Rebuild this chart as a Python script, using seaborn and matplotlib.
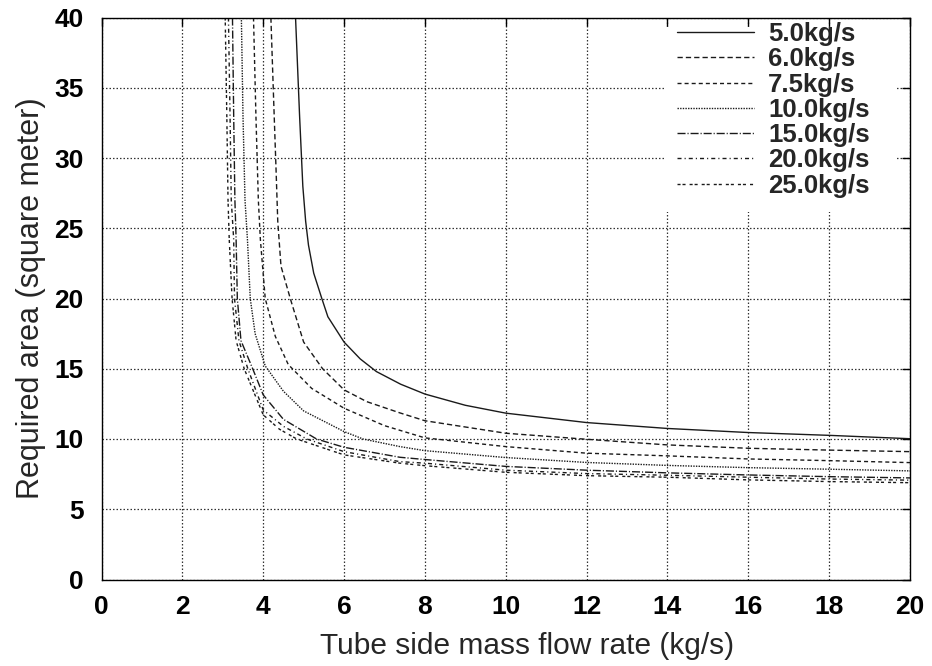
import numpy as np
import pandas as pd
import matplotlib
matplotlib.use("Agg")
import matplotlib.pyplot as plt
from matplotlib.patches import Rectangle
import seaborn as sns

# ---- data ----
labels = ["5.0kg/s", "6.0kg/s", "7.5kg/s", "10.0kg/s", "15.0kg/s", "20.0kg/s", "25.0kg/s"]

x_50 = [4.80, 4.90, 4.98, 5.05, 5.12, 5.25, 5.45, 5.60, 6.00, 6.40, 6.80, 7.40, 8.00, 9.00, 10, 12, 14, 16, 18, 20]
a_50 = [40, 33, 28, 25.5, 23.8, 21.8, 20, 18.7, 16.9, 15.7, 14.8, 13.9, 13.2, 12.4, 11.84, 11.17, 10.75, 10.46, 10.26, 10.02]

x_60 = [4.19, 4.26, 4.32, 4.36, 4.44, 4.68, 5.00, 5.47, 6.00, 6.56, 7.38, 8, 10, 12, 14, 16, 18, 20]
a_60 = [40, 34, 29, 25.5, 22.3, 19.9, 16.9, 15.0, 13.5, 12.66, 11.86, 11.3, 10.41, 9.98, 9.58, 9.34, 9.21, 9.1]

x_75 = [3.76, 3.82, 3.88, 3.93, 4.05, 4.30, 4.62, 5.20, 6.00, 7.00, 8, 10, 12, 14, 16, 18, 20]
a_75 = [40, 33, 27, 24.2, 20, 17.3, 15.3, 13.6, 12.19, 10.95, 10.08, 9.46, 8.99, 8.8, 8.58, 8.46, 8.32]

x_100 = [3.46, 3.50, 3.55, 3.61, 3.68, 3.80, 4.05, 4.50, 5.00, 6.00, 6.47, 7.38, 8, 10, 12, 14, 16, 18, 20]
a_100 = [40, 33, 27, 24.2, 20, 17.5, 15.2, 13.4, 12.0, 10.53, 10.0, 9.46, 9.17, 8.68, 8.33, 8.12, 7.96, 7.85, 7.73]

x_150 = [3.24, 3.27, 3.30, 3.33, 3.36, 3.45, 3.74, 4.00, 4.50, 5.32, 6.00, 7.38, 8, 10, 12, 14, 16, 18, 20]
a_150 = [40, 33, 27, 24.2, 20, 17, 15, 13.14, 11.4, 10.0, 9.41, 8.70, 8.54, 8.05, 7.78, 7.59, 7.44, 7.32, 7.23]

x_200 = [3.14, 3.18, 3.21, 3.27, 3.29, 3.40, 3.62, 4.00, 4.50, 5.08, 6.00, 7.38, 8, 10, 12, 14, 16, 18, 20]
a_200 = [40, 33, 27, 24.2, 20, 17, 15, 12.07, 10.9, 10.0, 9.1, 8.39, 8.28, 7.78, 7.54, 7.42, 7.28, 7.15, 7.07]

x_250 = [3.06, 3.10, 3.13, 3.16, 3.23, 3.33, 3.53, 4.00, 4.40, 4.83, 6.00, 7.38, 8, 10, 12, 14, 16, 18, 20]
a_250 = [40, 33, 27, 24.2, 20, 17, 15, 11.72, 10.7, 10.0, 8.87, 8.28, 8.1, 7.63, 7.39, 7.28, 7.09, 6.97, 6.89]

x_ticks = [0, 2, 4, 6, 8, 10, 12, 14, 16, 18, 20]
y_ticks = [0, 5, 10, 15, 20, 25, 30, 35, 40]

series_x = [x_50, x_60, x_75, x_100, x_150, x_200, x_250]
series_a = [a_50, a_60, a_75, a_100, a_150, a_200, a_250]

frames = []
for lab, xs, ys in zip(labels, series_x, series_a):
    frames.append(pd.DataFrame({"flow": xs, "area": ys, "shell": lab}))
df = pd.concat(frames, ignore_index=True)

dash_styles = {
    "5.0kg/s": "",
    "6.0kg/s": (3.8, 2.2),
    "7.5kg/s": (2.9, 2.2),
    "10.0kg/s": (1.0, 0.9),
    "15.0kg/s": (5.8, 1.4, 0.8, 1.4),
    "20.0kg/s": (2.9, 2.2, 0.8, 2.2),
    "25.0kg/s": (2.2, 1.4, 2.2, 2.9),
}
palette = {lab: "#1a1a1a" for lab in labels}

sns.set_style("white")
plt.rcParams["font.family"] = ["Liberation Sans", "DejaVu Sans"]

fig = plt.figure(figsize=(9.32, 6.66), dpi=100)
ax = fig.add_axes([101.5 / 932, (666 - 579.5) / 666, 808.5 / 932, 562 / 666])

sns.lineplot(data=df, x="flow", y="area", hue="shell", style="shell",
             hue_order=labels, style_order=labels, palette=palette,
             dashes=dash_styles, sort=False, estimator=None, units="shell",
             linewidth=1.0, ax=ax, legend=True)

ax.set_xlim(0, 20)
ax.set_ylim(0, 40)
ax.set_xticks(x_ticks)
ax.set_yticks(y_ticks)
ax.grid(True, color="#333333", linestyle=(0, (1.2, 1.6)), linewidth=0.9)
ax.set_axisbelow(True)
for s in ax.spines.values():
    s.set_color("black")
    s.set_linewidth(1.0)
ax.tick_params(direction="in", length=6, width=1, top=True, right=True,
               labelsize=19, colors="black")
ax.tick_params(axis="x", pad=11)
ax.tick_params(axis="y", pad=13)
for lbl in ax.get_xticklabels() + ax.get_yticklabels():
    lbl.set_fontweight("bold")

ax.set_xlabel("Tube side mass flow rate (kg/s)", fontsize=21.5, labelpad=8)
ax.set_ylabel("Required area (square meter)", fontsize=22, labelpad=6)
ax.xaxis.set_label_coords(0.526, -0.094)

# blank area behind the key (grid is interrupted there in the reference)
ax.add_patch(Rectangle((0.697, 0.654), 0.284, 0.329, transform=ax.transAxes,
                       facecolor="white", edgecolor="none", zorder=1))

handles, labs = ax.get_legend_handles_labels()
ax.legend(handles, labs, loc="upper left", bbox_to_anchor=(0.712, 0.992),
          frameon=False, prop={"weight": "bold", "size": 18.5},
          handlelength=3.0, handletextpad=0.55, labelspacing=0.05, borderpad=0.0,
          borderaxespad=0.0)

fig.savefig("out.png", dpi=100, facecolor="white")
